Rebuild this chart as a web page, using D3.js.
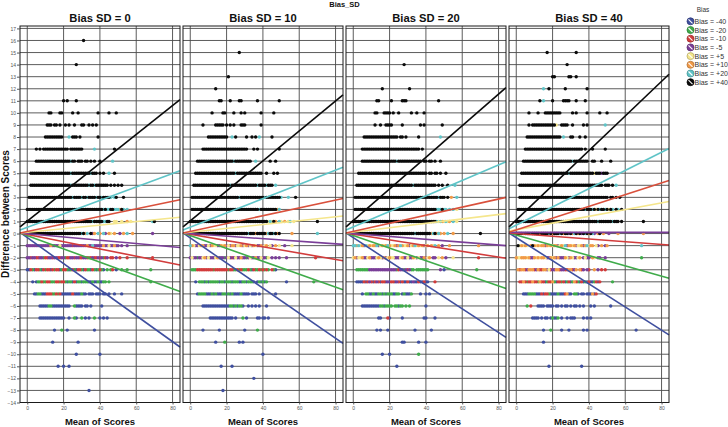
<!DOCTYPE html>
<html><head><meta charset="utf-8">
<script src="https://cdn.jsdelivr.net/npm/d3@7"></script>
<style>body{margin:0;background:#fff}svg{display:block}text{font-family:"Liberation Sans",Arial,sans-serif}</style>
</head><body><svg id="c" width="728" height="427"></svg>
<script>
// ---------- data ----------
const chartTitle = "Bias_SD";
const panelTitles = ["Bias SD = 0","Bias SD = 10","Bias SD = 20","Bias SD = 40"];
const yTitle = "Difference between Scores";
const xTitle = "Mean of Scores";
const legendTitle = "Bias";
const biasGroups = ["Bias = -40","Bias = -20","Bias = -10","Bias = -5","Bias = +5","Bias = +10","Bias = +20","Bias = +40"];
const groupCodes = ["b","g","r","p","y","o","c","k"];
const groupColors = ["#3f4f9f","#3fab4a","#d23c3c","#7a3e98","#f5e68c","#f19a48","#5fc4c7","#0a0a0a"];
const lineColors  = ["#3f4f9f","#3fab4a","#d23c3c","#7a3e98","#f5e68c","#d9503c","#5fc4c7","#0a0a0a"];
const xTicks = [0,20,40,60,80];
const yTicks = [17,16,15,14,13,12,11,10,9,8,7,6,5,4,3,2,1,0,-1,-2,-3,-4,-5,-6,-7,-8,-9,-10,-11,-12,-13,-14];

// fitted line values [at left edge x=-4, at right edge x=84] per bias group
const linesSD0  = [[0.1,-9.4],[0.05,-4.8],[0.05,-2.6],[0.05,-1.15],[0.05,1.35],[0.05,2.8],[0.3,5.2],[0.55,11.1]];
const linesSD10 = [[0.05,-9.1],[0.05,-4.65],[0.05,-2.25],[0.05,-0.9],[0.05,1.45],[0.05,2.9],[0.3,5.5],[0.55,11.5]];
const linesSD20 = [[0.05,-8.6],[0.05,-4.55],[0.05,-2.05],[0.05,-1.0],[0.05,1.65],[0.05,3.0],[0.3,5.95],[0.55,12.1]];
const linesSD40 = [[0.05,-8.4],[0.05,-3.7],[0.05,-0.95],[0.1,0.1],[0.2,2.65],[0.1,4.4],[0.4,7.05],[0.55,13.2]];

// points: [difference, row string]; character i = mean of scores i, letter = bias group code
const ptsSD0 = [
[16,"..........|..........|..........|.k"],
[14,"..........|..........|.......k"],
[11,"..........|..........|k.k....k"],
[10,"..........|..kk....kk|.....k..k.|.........k|.....k...k"],
[9,"..........|.kkk.kk.k.|.k.k..k...|kk..k.k.k."],
[8,"..........|kkkkkkkkkk|...c.kkk.k|.........k"],
[7,".....k.k.k|kkkkkkkkkk|kkk.kkkkkk|k......c..|........k"],
[6,".....kkkkk|kkkkkkkkkk|kkkkckk.kk|k.kk.k.k..|k......c"],
[5,"..kkkkkkkk|kkkkkkkkkk|kkkkckkkkk|kkkkkckkk.|k.k..c..k"],
[4,"..kkkkkkkk|kkkkkkkkkk|kkkkckkkkk|kkkkckkckk|kkkkk.k.k.|k.k"],
[3,".kkkkkkkkk|kkkkkkkkkk|kkkkkckkkk|ckkckkkkck|kckkkkc.ck|...k"],
[2,"kkkkkkkkkk|kkkkkkkkkk|kkkkkkkkkk|kkkkkkkkkk|kkckcckkcc|cokc.c"],
[1,"kkkkkkkkkk|kkkkkkkkkk|kkkkkkkkkk|kkkkkkckkk|kkcckk..yy|..y..o.y..|.........c|k"],
[0,"kkkkkkkkkk|kkkkkkkkkk|kkkkkkkkkk|ckoc.kpo.c|o.cp.oy.o.|.p.o.c..o.|.........p"],
[-1,"pppppppppp|pppoppppyp|ppppprpppp|pppoppcppp|ppoppyppop|p.p..p"],
[-2,"pprpprrppg|rrpprpprrp|pgrrpprppr|rpprgrprrp|rpgrp.rr.p|.r...r....|.........r"],
[-3,"bbrgbrrgbr|grrbrgrrbg|rrgbgrgbrr|gbrggbrgbg|rgb.g.gr.b|..g..g....|........g"],
[-4,"...b.bggrg|grrgggrrgr|rgbggbrbgg|bgggbbgbbg|bbgg.g....|..........|........g"],
[-5,"....bbggbb|brrrggrgrb|bbbbbrbbbb|gbb.bbb.bb|b.bb.b..b.|..b"],
[-6,".......bbb|bbggbbbbbb|bbbb..gbbb|b.bb.b....|.b"],
[-7,".......bbb|bbbbbbbbbb|b..b..gb..|g.b.b..g..|b.b.b"],
[-8,"..........|.....b...g|..b.......|.......b"],
[-9,"..........|....b.....|........b"],
[-10,"..........|..........|.......b..|..........|b"],
[-11,"..........|.......b..|b..b"],
[-13,"..........|..........|..........|....b"]
];
const ptsSD10 = [
[15,"..........|..........|.......k"],
[13,"..........|..........|.k"],
[12,"..........|....k"],
[11,"..........|......kk..|..k....kk.|.......k..|.........k"],
[10,"..........|..k.....kk|....k...k.|k........k|......k"],
[9,".......k..|....kkkkk.|k.k.k...kk|k........k"],
[8,"..........|kkkkkkkkkk|k..c.k....|.k..k.k.c.|.....k"],
[7,".......kkk|kkkkkkkkkk|kkkkkkkkkk|kk...k.k..|.........k"],
[6,"....kkkkkk|kkkkkkkkkk|kkkkckkkkk|kkkk..c...|....k..k"],
[5,"...kkkkkkk|kkkkkkkkkk|kkkkkckkkk|kkkkkkkkkk|..k...k.k"],
[4,"..kkkkkkkk|kkkkkkkkkk|kkckkkkkkk|kkkkkkkckk|kkckkk.c"],
[3,".kkkkkkkkk|kkkkkkkkkk|kkkkkkkckk|kkkkkkkkkk|kckkkkkkkk|c...c...k"],
[2,".kkkkkkkkk|kkkkkkkkkk|kkkkkkkkkk|kkkkkkkkck|kkkkkkkkoc"],
[1,"kkkkkkkkkk|kkkkkkkkkk|kkkkkkkkkk|kkkkkkkkkk|kkkycyko.c|y.o.yc.y..|..........|k"],
[0,"kkkkkkkkkk|kkkkkkkkkk|kkkkkkkkkk|kkckkkokkk|kkockkckok|......o...|..........|c"],
[-1,"coyppyoopp|ypoyyppoyo|pypoopyyop|yopypoyppo|pyo.yp.o.y|..p...y"],
[-2,"pyppgppyop|ypppyopppg|pyprpyppop|pgpyppoppy|ppgy.p.p.p|...p......|.........r"],
[-3,".gggrrrrrr|rrrgrrrrrr|rgrrggrgrg|ggrgbrggrg|rgrg.rgb"],
[-4,"...b.gggbg|bgggggbggb|gggbgggbbg|gbgggb.bgb|gbg.......|...b......|........g"],
[-5,"....bggggb|bbgbgbbbgg|bgbgbbbbgb|bbb.bbb.b.|.......b"],
[-6,".......bbb|bbbbbbbbbb|bbggbgbggb|..b.b.b.b.|..b"],
[-7,"..........|.bbbbbbbbb|bbbb.b...g|.b.....bb.|bb.b"],
[-8,".......b..|......b...|..........|b......g"],
[-9,"..........|....b....g|.......b.b"],
[-10,"..........|..........|..........|..........|b"],
[-11,"..........|.......b..|...b"],
[-12,"..........|..........|..........|.....b"],
[-13,"..........|........b"]
];
const ptsSD20 = [
[14,"..........|..........|........k"],
[12,"..........|......k...|..........|.k"],
[11,"..........|...kk.....|.k.....kkk|..........|.......k"],
[10,"..........|..kk...kkk|k.k..k....|..k..k...k"],
[9,"..........|..k..k..kk|kk.....k..|.......k.k|.........k"],
[8,"......kkkk|kkkkkkkkkk|kkkkk.kk.k|......k...|........c"],
[7,".....kkkkk|kkkkkkkkkk|kkkkkkkkkk|kkkkkkk.k."],
[6,".....kkkkk|kkkkkkkkkk|kkkkckkkkk|kkkkkkkk.k|k.kk.k..k."],
[5,"...kkkkkkk|kkkkkkkkkk|kkkkkkkkkk|kkkkkkkkkk|k.kk.kk.k.|.k"],
[4,"..kkkkkkkk|kkkkkkkkkk|kkkkkkkkkk|kkkckkkkkk|kkkkkk.k.k|..k...c"],
[3,".kkkkkkkkk|kkkkkkkkkk|kkkkkkkkkk|kkkkkkkkkk|kkkkkkkckk|k.k.o..c"],
[2,".kkkkkkkkk|kkkkkkkkkk|kkkkkkkkkk|kkkkkkkkkk|kkkkkkccck|cc.c.c.y"],
[1,"kkkkkkkkkk|kkkkkkkkkk|kkkkkkkkkk|kkkkkkkkkk|kkkkkkcyco|ycyo.c.y"],
[0,"kkkkkkkkkk|kkkkkkkkkk|kkkkkkkkkk|kkkkckkkkk|kkkockoco.|o.c..o....|..........|k"],
[-1,"ccocyopcyo|yoocpyoyoc|oyyopocoyy|opyocyoyop|yo.oyc.o.p|...o......|.........o"],
[-2,"yopyyoppyo|pppyoypopy|oyypppyopp|yppoypyppo|pyo.pp.y.o|.p...y....|.........r"],
[-3,"..gggggggp|pppppppppp|ppppgrppgp|rpgg.ggggg|gg......p.|b.........|........g"],
[-4,"..bbbbrbrp|rbrprbrrbp|brrbprbrbb|rbbpbbrbbr|bb...r"],
[-5,".....b.ggb|bgbbggbgbg|ggbbgg.bgb|bbg....b..|b.b"],
[-6,".....bbbbb|bbbbbggbgg|gg.ggbgg.g|.g........|b"],
[-7,"..........|....bb...r|b......b..|.........b|b....b"],
[-8,"..........|...b.b...b|..........|....b.....|...b"],
[-9,"..........|..........|.......bb.|......b...|b"],
[-10,"..........|......b...|b.........|......g"],
[-11,"..........|..........|....b"]
];
const ptsSD40 = [
[15,"..........|.......k..|..........|...k"],
[14,"..........|..........|........k"],
[13,"..........|..........|kk.......k|k..k"],
[12,"..........|.....c..k.|.......k..|.........k"],
[11,"..........|...k.c....|k.....kkkk|...k....k"],
[10,".......k..|..k...kkkk|kkkkk.....|.k.k.....k|......k...|k"],
[9,".......k.k|kkkkkkkkkk|kky..kkkk.|.k.....k.k|.........c"],
[8,"......kkkk|kkkkkkkkkk|kkkkk.c...|kk...k..k."],
[7,".....kkkkk|kkkkkkkkkk|kkkkkkkkkk|kkkkkkk.k.|..k......k"],
[6,"....kkkkkk|kkkkkkkkkk|kkkkkkkkkk|kckkkkkkkk|..kk...k..|..k"],
[5,"...kkkkkkk|kkkkkkkkkk|kkkkkkkkkc|kkkkkkkkkk|kkkykkkpkk|k"],
[4,"..kkkkkkkk|kkkkkkkkkk|kkkkkkkkkk|kkkkkkkkkk|kkkkkkkk.k|kk.k.c"],
[3,"..kkkkkkkk|kkkkkkkkkk|kkkkkkkkkk|kkkkkkkkkk|kkkkkkkkkk|k.kk.k.k"],
[2,".kkkkkkkkk|kkkkkkkkkk|kkkkkkkkkk|kkkkkkkkck|kkckykckkc|kykc.kc.k"],
[1,"kkkkkkkkkk|kkkkkkkkkk|kkkkkkkkkk|kkkkkkkkkk|kkkkkckkkk|kkkckkk.k.|..........|k"],
[0,"kkkkokkkck|kkkokkkkck|okkkckokkp|kockokpkck|okcp.ok.o.|.p....o...|..........|o"],
[-1,".kyoyoy.ok|oyoyoopoyo|yoopyoycpo|oyopyyopoc|yoo.yp.o.p|o.........|.........c"],
[-2,"oyyoooyopp|oyoyooyppo|yopopppoyp|oyppyo.pyp|p.oy.pp..p|..........|.........g"],
[-3,".oroorpooo|rporroopyr|ppoorpprro|orpo.orp.p|r..o.p.r.r"],
[-4,"..rrorgrro|rrgorrbgrr|ogbrrgrbgr|bgorgbrbgb|rbbgrbr...|...g"],
[-5,"....bbbggg|gbbbrbrrgb|bbbgbbbrob|b.ggb.bb.b|bbobr"],
[-6,"......g.r.|..bbbb.bbb|b.bb.b.bb.|b.bb.b.b..|.b.b......|..b"],
[-7,".........b|bbb.b.bb.b|gbbg.b..b.|bbb....b.b|.b"],
[-8,"..........|.....b...g|.....b...b|.......b.b|..........|..........|......b"],
[-9,"..........|.....b"],
[-11,"..........|........b.|..........|......b"]
];

// ---------- drawing ----------
const svg = d3.select("#c");
const panelPts = [ptsSD0, ptsSD10, ptsSD20, ptsSD40];
const panelLines = [linesSD0, linesSD10, linesSD20, linesSD40];
const codeIndex = {}; groupCodes.forEach((c,i)=>codeIndex[c]=i);
function parseRows(rows){
  const out=[];
  rows.forEach(([yv,s])=>{
    const t=s.replace(/\|/g,'');
    for(let i=0;i<t.length;i++){ const ch=t[i]; if(ch!=='.') out.push({x:i,y:yv,g:codeIndex[ch]}); }
  });
  return out.sort((a,b)=>a.g-b.g);
}
const PW=160, GAP=3, L0=20, TOP=26, BOT=402.5;
const y = d3.scaleLinear().domain([-14,17.2]).range([BOT,TOP]);

panelTitles.forEach((title,i)=>{
  const left = L0 + i*(PW+GAP);
  const x = d3.scaleLinear().domain([-4,84.1]).range([left,left+PW]);
  const g = svg.append("g");
  // grid
  g.selectAll(".hg").data(yTicks).join("line")
    .attr("x1",left).attr("x2",left+PW).attr("y1",d=>y(d)).attr("y2",d=>y(d))
    .attr("stroke","#4a4a4a").attr("stroke-width",0.9);
  g.selectAll(".vg").data(xTicks).join("line")
    .attr("x1",d=>x(d)).attr("x2",d=>x(d)).attr("y1",TOP).attr("y2",BOT)
    .attr("stroke","#4a4a4a").attr("stroke-width",0.9);
  // points
  g.append("g").selectAll("circle").data(parseRows(panelPts[i])).join("circle")
    .attr("cx",d=>x(d.x)).attr("cy",d=>y(d.y)).attr("r",1.7)
    .attr("fill",d=>groupColors[d.g]);
  // fitted lines
  g.append("g").selectAll("line").data(panelLines[i]).join("line")
    .attr("x1",x(-4)).attr("x2",x(84.1))
    .attr("y1",d=>y(d[0])).attr("y2",d=>y(d[1]))
    .attr("stroke",(d,j)=>lineColors[j]).attr("stroke-width",1.6);
  // border
  g.append("rect").attr("x",left).attr("y",TOP).attr("width",PW).attr("height",BOT-TOP)
    .attr("fill","none").attr("stroke","#1a1a1a").attr("stroke-width",1);
  // x axis
  const xa = g.append("g").attr("transform",`translate(0,${BOT})`)
    .call(d3.axisBottom(x).tickValues(xTicks).tickSize(2).tickPadding(1.5));
  xa.select(".domain").remove();
  xa.selectAll("line").attr("stroke","#555");
  xa.selectAll("text").attr("font-size",5).attr("fill","#555");
  // titles
  g.append("text").attr("x",left+PW/2).attr("y",22).attr("text-anchor","middle")
    .attr("font-size",11.2).attr("font-weight","bold").attr("fill","#111").text(title);
  g.append("text").attr("x",left+PW/2).attr("y",425).attr("text-anchor","middle")
    .attr("font-size",9.5).attr("font-weight","bold").attr("fill","#111").text(xTitle);
});

// y axis
const ya = svg.append("g").attr("transform",`translate(${L0},0)`)
  .call(d3.axisLeft(y).tickValues(yTicks).tickSize(3).tickPadding(1));
ya.select(".domain").remove();
ya.selectAll("line").attr("stroke","#555");
ya.selectAll("text").attr("font-size",5).attr("fill","#555");

svg.append("text").attr("transform","translate(9,214) rotate(-90)").attr("text-anchor","middle")
  .attr("font-size",10).attr("font-weight","bold").attr("fill","#111").text(yTitle);
svg.append("text").attr("x",344.5).attr("y",7).attr("text-anchor","middle")
  .attr("font-size",7.5).attr("font-weight","bold").attr("fill","#111").text(chartTitle);

// legend
const lg = svg.append("g");
lg.append("text").attr("x",703).attr("y",12).attr("text-anchor","middle")
  .attr("font-size",6.5).attr("fill","#333").text(legendTitle);
const items = lg.selectAll(".it").data(biasGroups).join("g")
  .attr("transform",(d,i)=>`translate(690.5,${21.3+i*8.7})`);
items.append("circle").attr("r",3.5).attr("fill",(d,i)=>groupColors[i])
  .attr("stroke",(d,i)=>d3.color(groupColors[i]).darker(0.8)).attr("stroke-width",0.8);
items.append("line").attr("x1",-2).attr("y1",-2).attr("x2",2).attr("y2",2)
  .attr("stroke","#fff").attr("stroke-width",1.1);
items.append("text").attr("x",4).attr("y",2.5).attr("font-size",7).attr("fill","#333").text(d=>d);
</script></body></html>
